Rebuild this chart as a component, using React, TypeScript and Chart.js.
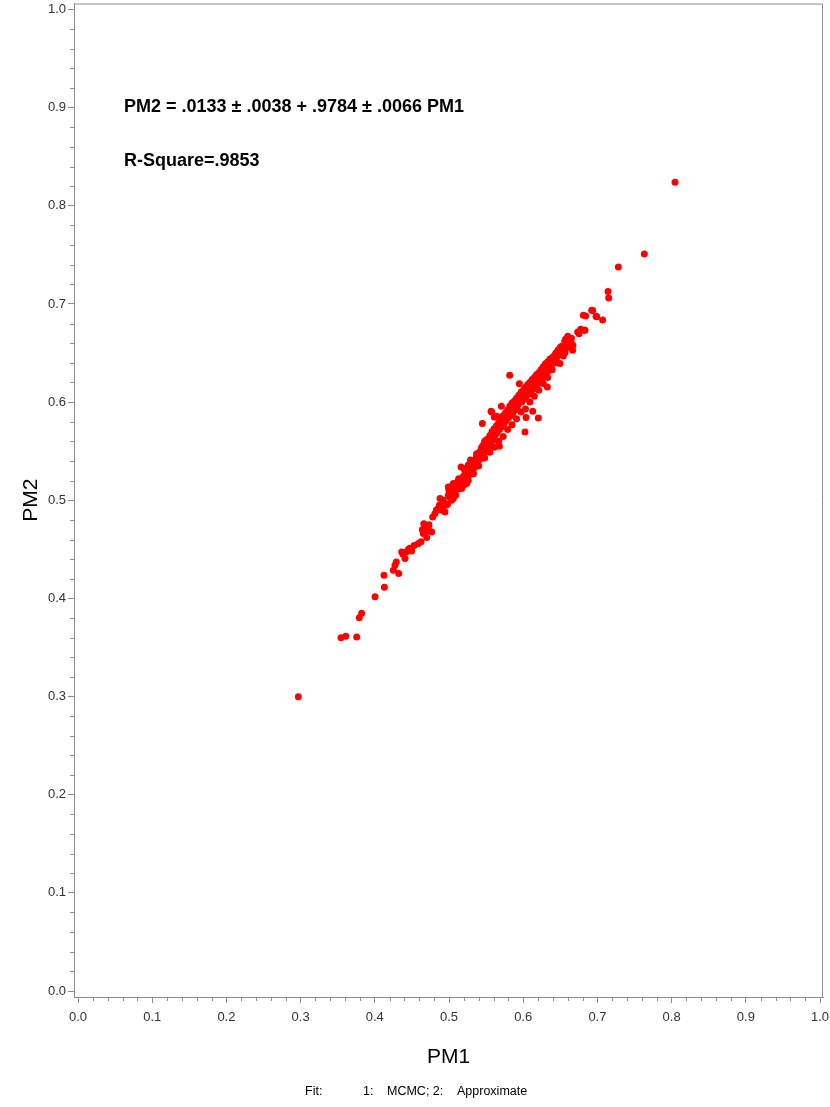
import { useEffect, useRef } from 'react';
import { Chart, registerables } from 'chart.js';

Chart.register(...registerables);

// ---- Data (PM1 = MCMC posterior mean, PM2 = approximate) ----
const pm1: number[] = [
  0.2969, 0.3544, 0.3608, 0.3756, 0.3791, 0.3823, 0.4003, 0.4129, 0.4124, 0.4250,
  0.4272, 0.4322, 0.4290, 0.4362, 0.4407, 0.4452, 0.4497, 0.4380, 0.4420, 0.4470,
  0.4530, 0.4587, 0.4623, 0.4654, 0.4640, 0.4677, 0.4721, 0.4767, 0.4699, 0.4660,
  0.4700, 0.4730, 0.4811, 0.4780, 0.4856, 0.4901, 0.4946, 0.4879, 0.4923, 0.4830,
  0.4870, 0.4910, 0.4960, 0.4990, 0.5036, 0.5081, 0.4990, 0.5058, 0.5126, 0.5171,
  0.5238, 0.5010, 0.5050, 0.5100, 0.5140, 0.5000, 0.5080, 0.5120, 0.5162, 0.5058,
  0.5200, 0.5220, 0.5250, 0.5180, 0.5270, 0.5240, 0.5280, 0.5300, 0.5210, 0.5260,
  0.5320, 0.5330, 0.5290, 0.5350, 0.5360, 0.5310, 0.5380, 0.5400, 0.5370, 0.5420,
  0.5410, 0.5440, 0.5449, 0.5450, 0.5430, 0.5470, 0.5460, 0.5490, 0.5480, 0.5500,
  0.5510, 0.5520, 0.5530, 0.5540, 0.5550, 0.5560, 0.5566, 0.5575, 0.5610, 0.5570,
  0.5580, 0.5590, 0.5600, 0.5620, 0.5610, 0.5630, 0.5640, 0.5650, 0.5660, 0.5643,
  0.5678, 0.5670, 0.5680, 0.5690, 0.5700, 0.5705, 0.5710, 0.5720, 0.5730, 0.5740,
  0.5750, 0.5760, 0.5770, 0.5780, 0.5790, 0.5800, 0.5810, 0.5818, 0.5820, 0.5830,
  0.5840, 0.5850, 0.5860, 0.5870, 0.5880, 0.5890, 0.5900, 0.5910, 0.5920, 0.5930,
  0.5948, 0.5940, 0.5950, 0.5960, 0.5970, 0.5980, 0.5990, 0.6000, 0.6010, 0.6024,
  0.6038, 0.6020, 0.6030, 0.6040, 0.6050, 0.6060, 0.6070, 0.6080, 0.6090, 0.6100,
  0.6110, 0.6120, 0.6128, 0.6130, 0.6140, 0.6150, 0.6160, 0.6170, 0.6180, 0.6190,
  0.6204, 0.6200, 0.6210, 0.6220, 0.6230, 0.6240, 0.6250, 0.6260, 0.6270, 0.6280,
  0.6290, 0.6300, 0.6310, 0.6325, 0.6320, 0.6330, 0.6340, 0.6350, 0.6360, 0.6380,
  0.6390, 0.6400, 0.6420, 0.6438, 0.6430, 0.6450, 0.6465, 0.6470, 0.6496, 0.6496,
  0.6519, 0.6540, 0.6563, 0.6550, 0.6580, 0.6600, 0.6617, 0.6653, 0.6666, 0.6630,
  0.6670, 0.6734, 0.6752, 0.6775, 0.6824, 0.6833, 0.6810, 0.6842, 0.6923, 0.6936,
  0.6981, 0.6990, 0.7070, 0.7143, 0.7152, 0.7282, 0.7632, 0.8046,
  0.5020, 0.5060, 0.5110, 0.5150, 0.5190, 0.5230, 0.5270, 0.5300, 0.5340, 0.5390,
  0.5420, 0.5460, 0.5500, 0.5530, 0.5560, 0.5590, 0.5620, 0.5650, 0.5680, 0.5710,
  0.5740, 0.5770, 0.5800, 0.5830, 0.5860, 0.5890, 0.5920, 0.5950, 0.5980, 0.6010,
  0.6040, 0.6070, 0.6100, 0.6130, 0.6160, 0.6190, 0.6220, 0.6250, 0.6280, 0.6310,
  0.6340, 0.6370, 0.6410, 0.6440, 0.6480, 0.6520, 0.6560, 0.6600,
  0.4980, 0.5040, 0.5090, 0.5130, 0.5170, 0.5210, 0.5260, 0.5290, 0.5330, 0.5370,
  0.5400, 0.5440, 0.5480, 0.5510, 0.5550, 0.5580, 0.5610, 0.5640, 0.5670, 0.5700,
  0.5730, 0.5760, 0.5790, 0.5820, 0.5850, 0.5880, 0.5910, 0.5940, 0.5970, 0.6000,
  0.6030, 0.6060, 0.6090, 0.6120, 0.6150, 0.6180, 0.6210, 0.6240, 0.6270, 0.6300,
  0.6330, 0.6360, 0.6390, 0.6420, 0.6460, 0.6500, 0.6540, 0.6570, 0.6610, 0.6650,
];

const pm2: number[] = [
  0.2997, 0.3598, 0.3615, 0.3608, 0.3802, 0.3849, 0.4016, 0.4114, 0.4236, 0.4287,
  0.4338, 0.4253, 0.4370, 0.4473, 0.4406, 0.4498, 0.4484, 0.4450, 0.4470, 0.4510,
  0.4540, 0.4559, 0.4576, 0.4661, 0.4700, 0.4728, 0.4712, 0.4677, 0.4620, 0.4760,
  0.4690, 0.4750, 0.4864, 0.4830, 0.4915, 0.4898, 0.4881, 0.5017, 0.5000, 0.4900,
  0.4950, 0.4940, 0.4950, 0.5051, 0.5000, 0.5085, 0.5136, 0.5170, 0.5153, 0.5186,
  0.5170, 0.5030, 0.5080, 0.5110, 0.5120, 0.5100, 0.5140, 0.5190, 0.5339, 0.5017,
  0.5250, 0.5290, 0.5220, 0.5230, 0.5300, 0.5330, 0.5260, 0.5340, 0.5310, 0.5360,
  0.5300, 0.5380, 0.5410, 0.5350, 0.5420, 0.5380, 0.5390, 0.5440, 0.5470, 0.5420,
  0.5490, 0.5460, 0.5781, 0.5520, 0.5510, 0.5480, 0.5560, 0.5540, 0.5600, 0.5510,
  0.5580, 0.5620, 0.5540, 0.5600, 0.5660, 0.5570, 0.5906, 0.5899, 0.5848, 0.5640,
  0.5700, 0.5610, 0.5680, 0.5660, 0.5730, 0.5710, 0.5760, 0.5690, 0.5740, 0.5855,
  0.5550, 0.5790, 0.5720, 0.5770, 0.5820, 0.5957, 0.5750, 0.5800, 0.5860, 0.5780,
  0.5830, 0.5890, 0.5810, 0.5870, 0.5920, 0.5840, 0.5900, 0.6273, 0.5960, 0.5860,
  0.5930, 0.5990, 0.5890, 0.5960, 0.6010, 0.5920, 0.5980, 0.6040, 0.5950, 0.6020,
  0.6188, 0.6070, 0.5990, 0.6050, 0.6100, 0.6000, 0.6070, 0.6120, 0.6030, 0.5696,
  0.5842, 0.6090, 0.6150, 0.6060, 0.6120, 0.6180, 0.6080, 0.6140, 0.6200, 0.6110,
  0.6170, 0.6230, 0.5906, 0.6130, 0.6200, 0.6250, 0.6160, 0.6220, 0.6280, 0.6180,
  0.5838, 0.6240, 0.6300, 0.6210, 0.6270, 0.6330, 0.6240, 0.6300, 0.6360, 0.6270,
  0.6330, 0.6390, 0.6290, 0.6154, 0.6350, 0.6410, 0.6320, 0.6380, 0.6440, 0.6360,
  0.6410, 0.6460, 0.6400, 0.6408, 0.6480, 0.6450, 0.6477, 0.6530, 0.6392, 0.6494,
  0.6527, 0.6510, 0.6504, 0.6570, 0.6560, 0.6670, 0.6636, 0.6595, 0.6527, 0.6622,
  0.6580, 0.6714, 0.6697, 0.6741, 0.6731, 0.6731, 0.6884, 0.6877, 0.6935, 0.6932,
  0.6874, 0.6870, 0.6836, 0.7128, 0.7060, 0.7376, 0.7508, 0.8241,
  0.5070, 0.5120, 0.5160, 0.5170, 0.5200, 0.5260, 0.5260, 0.5290, 0.5330, 0.5400,
  0.5450, 0.5500, 0.5560, 0.5580, 0.5630, 0.5650, 0.5720, 0.5740, 0.5770, 0.5800,
  0.5830, 0.5850, 0.5900, 0.5920, 0.5950, 0.5980, 0.6010, 0.6040, 0.6060, 0.6110,
  0.6130, 0.6150, 0.6180, 0.6190, 0.6230, 0.6260, 0.6290, 0.6320, 0.6350, 0.6360,
  0.6400, 0.6430, 0.6450, 0.6500, 0.6520, 0.6570, 0.6620, 0.6640,
  0.4960, 0.5140, 0.5050, 0.5220, 0.5120, 0.5160, 0.5200, 0.5380, 0.5270, 0.5430,
  0.5350, 0.5540, 0.5430, 0.5620, 0.5490, 0.5680, 0.5540, 0.5720, 0.5600, 0.5780,
  0.5650, 0.5850, 0.5720, 0.5890, 0.5770, 0.5960, 0.5830, 0.6010, 0.5900, 0.6080,
  0.5930, 0.6140, 0.6000, 0.6190, 0.6060, 0.6250, 0.6120, 0.6290, 0.6190, 0.6350,
  0.6250, 0.6400, 0.6330, 0.6470, 0.6400, 0.6560, 0.6470, 0.6640, 0.6560, 0.6650,
];

// Tick labels (major) and number of minor intervals per major interval
const majorTickLabels: string[] = ['0.0', '0.1', '0.2', '0.3', '0.4', '0.5', '0.6', '0.7', '0.8', '0.9', '1.0'];
const minorPerMajor = 5;

const xTitle = 'PM1';
const yTitle = 'PM2';
const fitEquation = 'PM2 = .0133 \u00B1 .0038 + .9784 \u00B1 .0066 PM1';
const rSquareText = 'R-Square=.9853';
const footerLabel = 'Fit:';
const footerParts: string[] = ['1:', 'MCMC; 2:', 'Approximate'];

// ---- Styles ----
const FONT = '"Liberation Sans", Arial, Helvetica, sans-serif';
const AXIS_COLOR = '#8c8c8c';
const LABEL_COLOR = '#333333';
const POINT_COLOR = '#ff0000';

const tickValues: number[] = [];
for (let i = 0; i <= (majorTickLabels.length - 1) * minorPerMajor; i++) {
  tickValues.push(Number((i / ((majorTickLabels.length - 1) * minorPerMajor)).toFixed(4)));
}

const setTicks = (axis: any) => {
  axis.ticks = tickValues.map((v) => ({ value: v }));
};

const tickLabel = (_value: any, index: number) =>
  index % minorPerMajor === 0 ? majorTickLabels[index / minorPerMajor] : '';

const decorPlugin = {
  id: 'decor',
  afterDraw(chart: any) {
    const { ctx, chartArea } = chart;
    const { left, right, top, bottom } = chartArea;
    const xs = chart.scales.x;
    const ys = chart.scales.y;
    ctx.save();
    // frame (top and right)
    ctx.strokeStyle = AXIS_COLOR;
    ctx.lineWidth = 1;
    ctx.beginPath();
    ctx.moveTo(left, top + 0.5);
    ctx.lineTo(right - 0.5, top + 0.5);
    ctx.lineTo(right - 0.5, bottom);
    ctx.stroke();
    // minor ticks
    ctx.beginPath();
    tickValues.forEach((v, i) => {
      if (i % minorPerMajor === 0) return;
      const px = Math.round(xs.getPixelForValue(v)) + 0.5;
      ctx.moveTo(px, bottom);
      ctx.lineTo(px, bottom + 4);
      const py = Math.round(ys.getPixelForValue(v)) + 0.5;
      ctx.moveTo(left, py);
      ctx.lineTo(left - 4, py);
    });
    ctx.stroke();
    // fit annotation
    ctx.fillStyle = '#000';
    ctx.font = `bold 18px ${FONT}`;
    ctx.textBaseline = 'middle';
    ctx.textAlign = 'left';
    const ax = xs.getPixelForValue(0.062);
    ctx.fillText(fitEquation, ax, ys.getPixelForValue(0.901));
    ctx.fillText(rSquareText, ax, ys.getPixelForValue(0.846));
    // footer
    ctx.font = `12.5px ${FONT}`;
    const fy = 1092;
    ctx.fillText(footerLabel, 305, fy);
    ctx.fillText(footerParts[0], 363, fy);
    ctx.fillText(footerParts[1], 387, fy);
    ctx.fillText(footerParts[2], 457, fy);
    ctx.restore();
  },
};

export default function App() {
  const ref = useRef<HTMLCanvasElement | null>(null);

  useEffect(() => {
    if (!ref.current) return;
    const data = pm1.map((x, i) => ({ x, y: pm2[i] }));
    const chart = new Chart(ref.current, {
      type: 'scatter',
      data: {
        datasets: [
          {
            data,
            backgroundColor: POINT_COLOR,
            borderWidth: 0,
            pointRadius: 3.5,
            pointHoverRadius: 3.5,
          },
        ],
      },
      options: {
        responsive: false,
        animation: false,
        devicePixelRatio: 1,
        layout: { padding: { top: 3, right: 7, left: 0, bottom: 0 } },
        plugins: { legend: { display: false }, tooltip: { enabled: false } },
        scales: {
          x: {
            type: 'linear',
            position: 'bottom',
            min: -0.0054,
            max: 1.004,
            afterBuildTicks: setTicks,
            afterFit: (s: any) => {
              s.height = 110;
              s.paddingLeft = 0;
              s.paddingRight = 0;
            },
            grid: {
              drawOnChartArea: false,
              tickLength: 6,
              tickWidth: 1,
              tickColor: (c: any) => (c.index % minorPerMajor === 0 ? AXIS_COLOR : 'rgba(0,0,0,0)'),
            },
            border: { display: true, color: AXIS_COLOR, width: 1 },
            ticks: {
              autoSkip: false,
              maxRotation: 0,
              minRotation: 0,
              padding: 7,
              color: LABEL_COLOR,
              font: { size: 13, family: FONT },
              callback: tickLabel,
            },
            title: {
              display: true,
              text: xTitle,
              color: '#000',
              font: { size: 21, family: FONT },
              padding: { top: 0, bottom: 37 },
            },
          },
          y: {
            type: 'linear',
            position: 'left',
            min: -0.0061,
            max: 1.0061,
            afterBuildTicks: setTicks,
            afterFit: (s: any) => {
              s.width = 74;
              s.paddingTop = 0;
              s.paddingBottom = 0;
            },
            grid: {
              drawOnChartArea: false,
              tickLength: 6,
              tickWidth: 1,
              tickColor: (c: any) => (c.index % minorPerMajor === 0 ? AXIS_COLOR : 'rgba(0,0,0,0)'),
            },
            border: { display: true, color: AXIS_COLOR, width: 1 },
            ticks: {
              autoSkip: false,
              padding: 2,
              color: LABEL_COLOR,
              font: { size: 13, family: FONT },
              callback: tickLabel,
            },
            title: {
              display: true,
              text: yTitle,
              color: '#000',
              font: { size: 21, family: FONT },
              padding: { top: 19, bottom: 0 },
            },
          },
        },
      },
      plugins: [decorPlugin],
    });
    return () => chart.destroy();
  }, []);

  return (
    <div style={{ position: 'absolute', left: 0, top: 0, width: 830, height: 1107, background: '#fff' }}>
      <canvas ref={ref} width={830} height={1107} style={{ display: 'block' }} />
    </div>
  );
}
